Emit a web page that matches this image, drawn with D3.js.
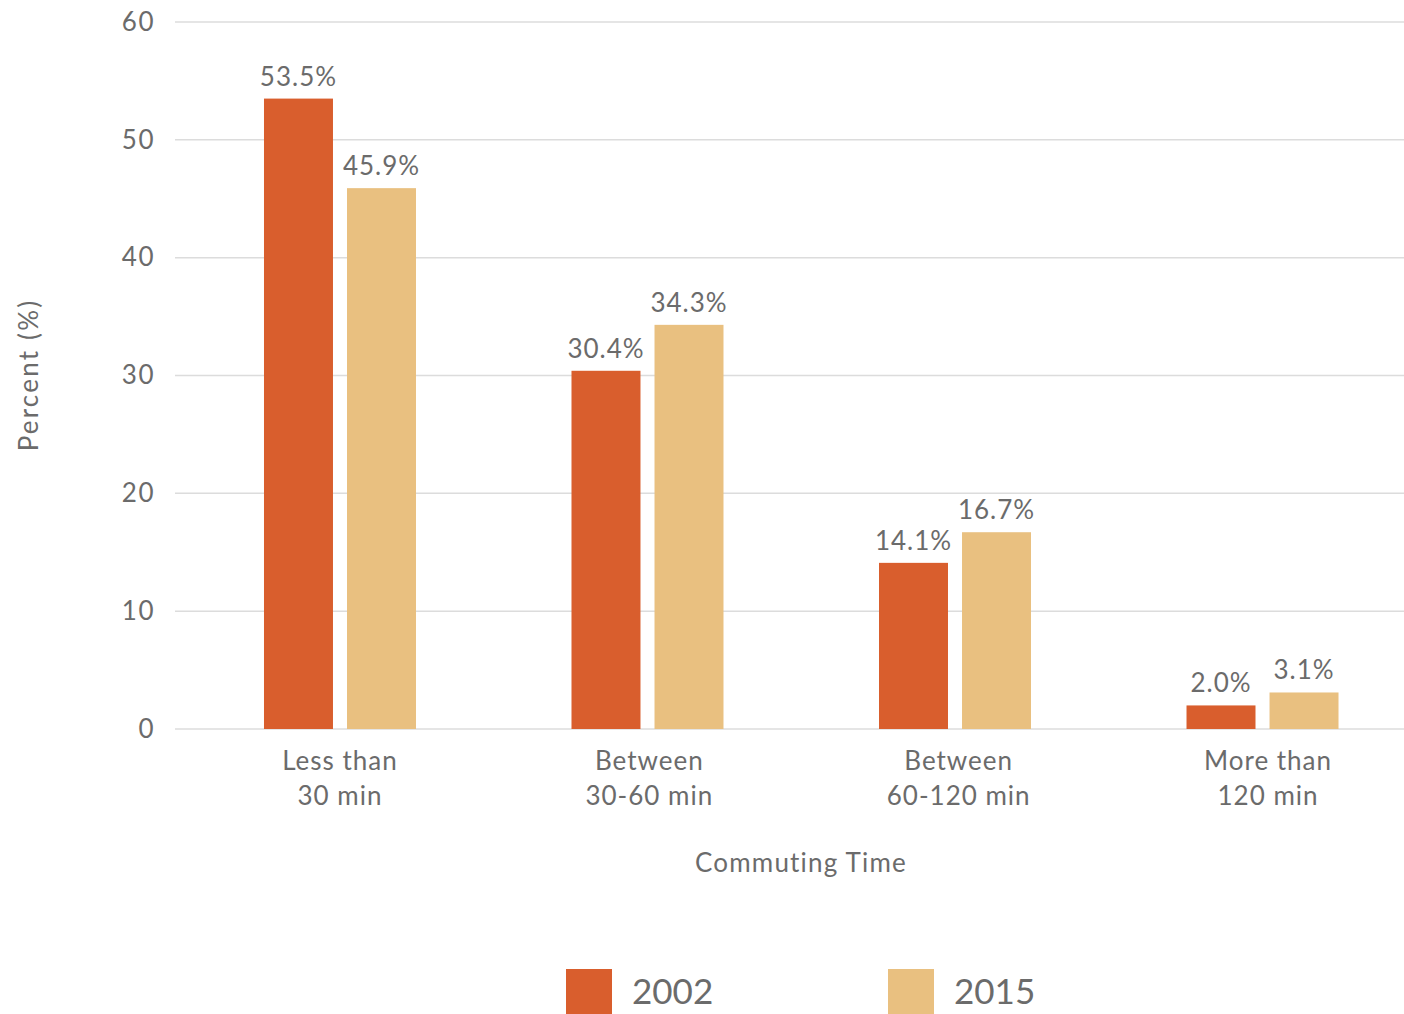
<!DOCTYPE html>
<html>
<head>
<meta charset="utf-8">
<script src="https://cdn.jsdelivr.net/npm/d3@7"></script>
<style>
  body { margin: 0; background: #fff; }
  text { font-family: Lato, "Open Sans", sans-serif; fill: #6b6b6b; }
</style>
</head>
<body>
<svg id="chart"></svg>
<script>
// data
const categories = [['Less than', '30 min'], ['Between', '30-60 min'], ['Between', '60-120 min'], ['More than', '120 min']];
const years = ['2002', '2015'];
const values2002 = [53.5, 30.4, 14.1, 2.0];
const values2015 = [45.9, 34.3, 16.7, 3.1];
const yTicks = [0, 10, 20, 30, 40, 50, 60];

const width = 1404, height = 1014;
const colors = {'2002': '#d95e2d', '2015': '#e9c080'};

const svg = d3.select('#chart')
    .attr('width', width)
    .attr('height', height);

const y = d3.scaleLinear()
    .domain([0, 60])
    .range([729, 22]);

// outer band scale for the category groups
const x0 = d3.scaleBand()
    .domain(d3.range(categories.length))
    .range([186.25, 1416.25])
    .paddingInner(0.5057)
    .paddingOuter(0.2528);

// labels sit on a slightly wider spacing than the bars
const xLabel = d3.scalePoint()
    .domain(d3.range(categories.length))
    .range([340, 1268]);

// inner band scale for the years
const x1 = d3.scaleBand()
    .domain(years)
    .range([0, x0.bandwidth()])
    .paddingInner(0.169);

// grid lines
svg.append('g')
    .selectAll('line')
    .data(yTicks)
    .enter()
    .append('line')
    .attr('x1', 175)
    .attr('x2', 1404)
    .attr('y1', d => y(d))
    .attr('y2', d => y(d))
    .attr('stroke', '#dcdcdc')
    .attr('stroke-width', 1.5);

// y axis labels
const yAxis = svg.append('g')
    .attr('transform', 'translate(155,0)')
    .call(d3.axisLeft(y).tickValues(yTicks).tickSize(0).tickPadding(0));
yAxis.select('.domain').remove();
yAxis.selectAll('text')
    .style('font-size', '26px')
    .style('letter-spacing', '1.5px')
    .attr('fill', '#6b6b6b');

svg.append('text')
    .attr('transform', 'translate(38,375) rotate(-90)')
    .style('text-anchor', 'middle')
    .style('font-size', '26px')
    .style('letter-spacing', '2.2px')
    .text('Percent (%)');

// bars
const series = years.map((yr, i) => ({year: yr, values: i === 0 ? values2002 : values2015}));

series.forEach(s => {
    const g = svg.append('g');
    g.selectAll('rect')
        .data(s.values)
        .enter()
        .append('rect')
        .attr('x', (d, i) => x0(i) + x1(s.year))
        .attr('y', d => y(d))
        .attr('width', x1.bandwidth())
        .attr('height', d => y(0) - y(d))
        .attr('fill', colors[s.year]);

    g.selectAll('text')
        .data(s.values)
        .enter()
        .append('text')
        .attr('x', (d, i) => x0(i) + x1(s.year) + x1.bandwidth() / 2)
        .attr('y', d => y(d) - 13)
        .style('text-anchor', 'middle')
        .style('font-size', '26px')
        .style('letter-spacing', '1px')
        .text(d => d.toFixed(1) + '%');
});

// category labels
const catG = svg.append('g');
categories.forEach((lines, i) => {
    const t = catG.append('text')
        .attr('x', xLabel(i))
        .attr('y', 770)
        .style('text-anchor', 'middle')
        .style('font-size', '26px')
        .style('letter-spacing', '1px');
    lines.forEach((ln, k) => {
        t.append('tspan')
            .attr('x', xLabel(i))
            .attr('dy', k === 0 ? 0 : 35)
            .text(ln);
    });
});

svg.append('text')
    .attr('x', 801)
    .attr('y', 872)
    .style('text-anchor', 'middle')
    .style('font-size', '26px')
    .style('letter-spacing', '1.2px')
    .text('Commuting Time');

// legend
const legendX = [566, 888];
years.forEach((yr, i) => {
    svg.append('rect')
        .attr('x', legendX[i])
        .attr('y', 969)
        .attr('width', 46)
        .attr('height', 46)
        .attr('fill', colors[yr]);
    svg.append('text')
        .attr('x', legendX[i] + 66)
        .attr('y', 1004)
        .style('font-size', '35px')
        .text(yr);
});
</script>
</body>
</html>
